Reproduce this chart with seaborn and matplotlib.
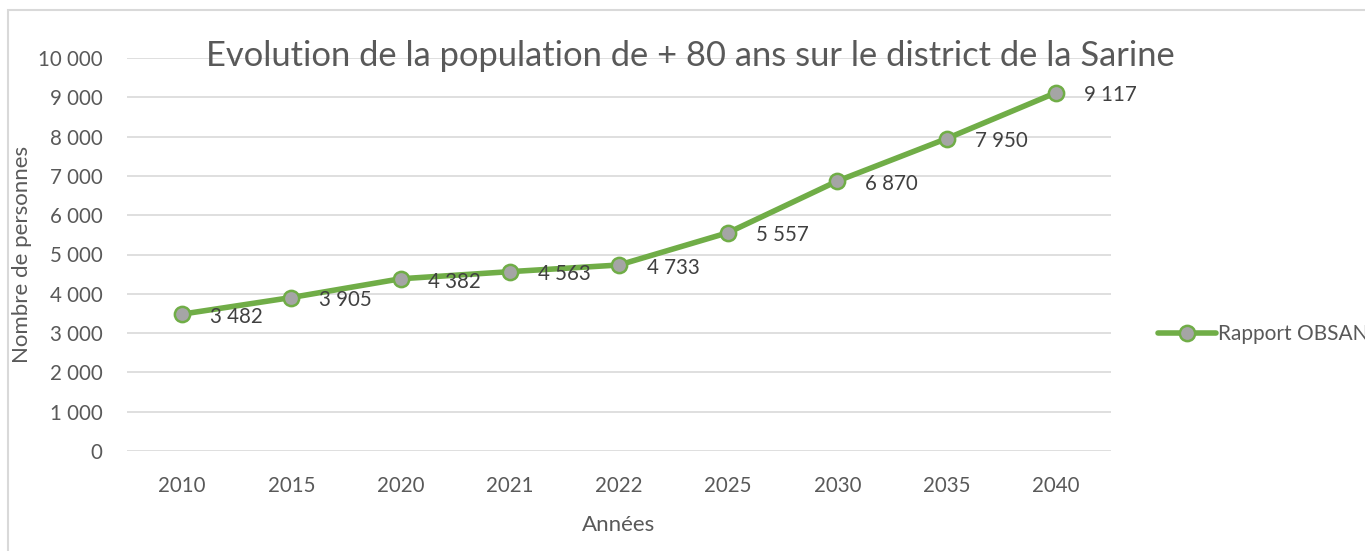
import matplotlib
matplotlib.use("Agg")
import matplotlib.pyplot as plt
import seaborn as sns
import pandas as pd
from matplotlib.patches import Rectangle

years = ["2010", "2015", "2020", "2021", "2022", "2025", "2030", "2035", "2040"]
values = [3482, 3905, 4382, 4563, 4733, 5557, 6870, 7950, 9117]
yticks = [0, 1000, 2000, 3000, 4000, 5000, 6000, 7000, 8000, 9000, 10000]
series_name = "Rapport OBSAN"
title = "Evolution de la population de + 80 ans sur le district de la Sarine"

def fmt(v):
    return f"{v:,}".replace(",", " ")

sns.set_theme(style="white")
plt.rcParams['font.family'] = ['Lato', 'DejaVu Sans']
txt = "#595959"
green = "#70AD47"
grid = "#D9D9D9"

df = pd.DataFrame({"year": years, "value": values})

fig = plt.figure(figsize=(13.65, 5.51), dpi=100)
ax = fig.add_axes([127.4/1365, 1-451/551, 983.2/1365, 393/551])

sns.lineplot(data=df, x="year", y="value", ax=ax, color=green, linewidth=4,
             marker="o", markersize=11, markerfacecolor="#A5A5A5",
             markeredgecolor=green, markeredgewidth=1.8, label=series_name)

ax.set_xlim(-0.5, len(years) - 0.5)
ax.set_ylim(0, 10000)
ax.set_yticks(yticks)
ax.set_yticklabels([fmt(v) for v in yticks])
ax.yaxis.grid(True, color=grid, linewidth=1.2)
ax.xaxis.grid(False)
for s in ax.spines.values():
    s.set_visible(False)
ax.tick_params(axis="both", length=0, labelsize=14.8, colors=txt)
ax.tick_params(axis="y", pad=18)
ax.tick_params(axis="x", pad=18)

for i, v in enumerate(values):
    ax.annotate(fmt(v), (i, v), xytext=(20, -2), textcoords="offset points",
                ha="left", va="center", fontsize=14.8, color="#404040")

ax.set_xlabel("Années", fontsize=16, color=txt, labelpad=14)
ax.set_ylabel("Nombre de personnes", fontsize=16, color=txt)
ax.yaxis.set_label_coords((32 - 127.4) / 983.2, 0.5)
fig.text(690/1365, 1-56/551, title, ha="center", va="center", fontsize=24.8, color=txt)

leg = ax.legend(loc="center left", bbox_to_anchor=(1.029, 0.298), frameon=False,
                fontsize=15, handlelength=2.8, handletextpad=0.1, labelcolor=txt)

fig.patches.append(Rectangle((8/1365, -0.1), 2, (551-10)/551 + 0.1, transform=fig.transFigure,
                             fill=False, edgecolor=grid, linewidth=1.5, figure=fig))

fig.savefig("out.png", dpi=100)
